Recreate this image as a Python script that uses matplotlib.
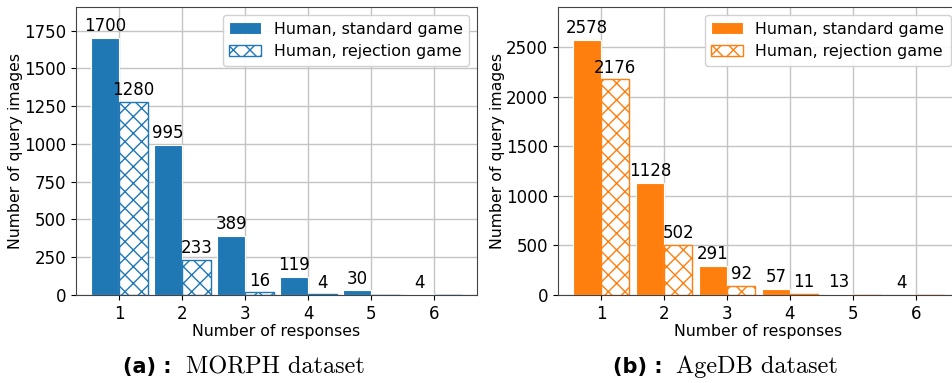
import matplotlib
matplotlib.use("Agg")
import matplotlib.pyplot as plt
import numpy as np

responses = [1, 2, 3, 4, 5, 6]
morph_standard = [1700, 995, 389, 119, 30, 4]
morph_rejection = [1280, 233, 16, 4, 0, 0]
agedb_standard = [2578, 1128, 291, 57, 13, 4]
agedb_rejection = [2176, 502, 92, 11, 0, 0]

plt.rcParams['font.family'] = ['DejaVu Sans']
fig = plt.figure(figsize=(9.52, 3.83), dpi=100)

ax1 = fig.add_axes([0.0798, 0.230, 0.4212, 0.751])
ax2 = fig.add_axes([0.5858, 0.230, 0.4212, 0.751])

W = 0.45

def draw(ax, std, rej, color, ylim, yticks):
    x = np.array(responses, dtype=float)
    ax.set_axisbelow(True)
    ax.grid(True, color='#c4c4c4', linewidth=1.0)
    ax.bar(x - W/2, std, width=W, color=color, edgecolor='white', linewidth=0.8,
           label='Human, standard game')
    ax.bar(x + W/2, rej, width=W, facecolor='white', edgecolor=color, hatch='xx',
           linewidth=1.0, label='Human, rejection game')
    for xi, v in zip(x - W/2, std):
        if v > 0:
            ax.annotate(str(v), (xi, v), xytext=(0, 2), textcoords='offset points',
                        ha='center', va='bottom', fontsize=12)
    for xi, v in zip(x + W/2, rej):
        if v > 0:
            ax.annotate(str(v), (xi, v), xytext=(0, 2), textcoords='offset points',
                        ha='center', va='bottom', fontsize=12)
    ax.set_xlim(0.31, 6.68)
    ax.set_ylim(*ylim)
    ax.set_yticks(yticks)
    ax.set_xticks(responses)
    ax.tick_params(labelsize=12, colors='black')
    for s in ax.spines.values():
        s.set_color('#444444')
    ax.set_xlabel('Number of responses', fontsize=11.3, labelpad=1)
    ax.set_ylabel('Number of query images', fontsize=11.3, labelpad=0.5)
    ax.legend(loc='upper right', fontsize=11.4, framealpha=0.9)

draw(ax1, morph_standard, morph_rejection, '#1f77b4', (0, 1905), np.arange(0, 1751, 250))
draw(ax2, agedb_standard, agedb_rejection, '#ff7f0e', (0, 2905), np.arange(0, 2501, 500))

cy = 1 - 367/383
fig.text(123/952, cy, '(a) :', ha='left', va='center', fontsize=15, fontweight='bold')
fig.text(186/952, cy, 'MORPH dataset', ha='left', va='center', fontsize=17.5, family='cmr10')
fig.text(613/952, cy, '(b) :', ha='left', va='center', fontsize=15, fontweight='bold')
fig.text(676/952, cy, 'AgeDB dataset', ha='left', va='center', fontsize=17.5, family='cmr10')

fig.savefig('out.png', dpi=100)
